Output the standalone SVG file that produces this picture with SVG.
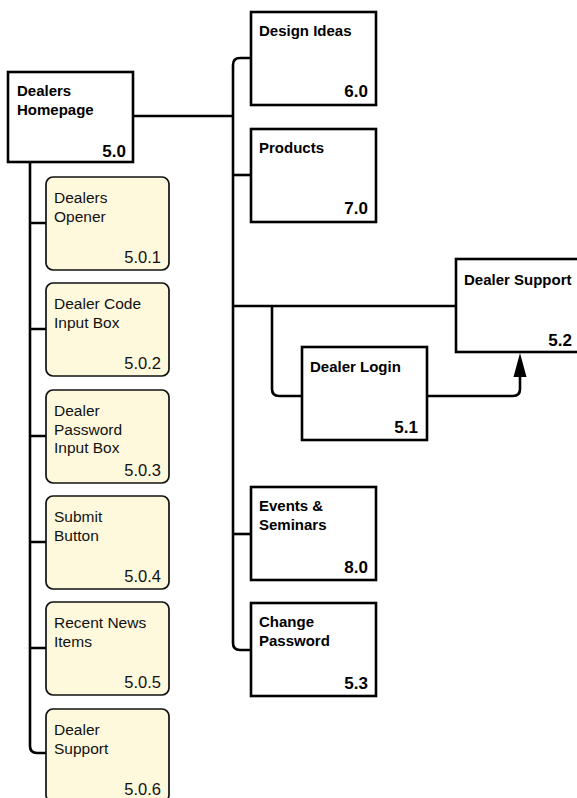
<svg xmlns="http://www.w3.org/2000/svg" width="577" height="798" viewBox="0 0 577 798">
<style>
.b{fill:#fff;stroke:#000;stroke-width:2.6}
.y{fill:#FEF9DC;stroke:#111;stroke-width:1.7}
.tb{font-family:"Liberation Sans",Arial,sans-serif;font-weight:bold;font-size:15px;fill:#000}
.tr{font-family:"Liberation Sans",Arial,sans-serif;font-size:15.5px;fill:#111}
.n{text-anchor:end}
.tb.n{font-size:17px}
.tr.n{font-size:16.5px}
.c{fill:none;stroke:#000;stroke-width:2.6;stroke-linejoin:round}
</style>
<rect width="577" height="798" fill="#fff"/>
<g id="connectors">
<path class="c" d="M133 116H233"/>
<path class="c" d="M251 58H240Q233 58 233 65V643Q233 650 240 650H251"/>
<path class="c" d="M233 175H251"/>
<path class="c" d="M233 306H456"/>
<path class="c" d="M233 534H251"/>
<path class="c" d="M272 306V389Q272 396 279 396H302"/>
<path class="c" d="M427 396H513Q520 396 520 389V374"/>
<path d="M520 353L526.5 377H513.5Z" fill="#000"/>
<path class="c" d="M30 162V746Q30 753 37 753H46"/>
<path class="c" d="M30 223H46M30 329H46M30 436H46M30 542H46M30 648H46"/>
</g>
<g id="n5_0"><rect class="b" x="8" y="72" width="125" height="90"/><text class="tb" x="17" y="96">Dealers</text><text class="tb" x="17" y="114.5">Homepage</text><text class="tb n" x="126" y="157">5.0</text></g>
<g id="n6_0"><rect class="b" x="251" y="12" width="125" height="93"/><text class="tb" x="259" y="36">Design Ideas</text><text class="tb n" x="368" y="97">6.0</text></g>
<g id="n7_0"><rect class="b" x="251" y="129" width="125" height="93"/><text class="tb" x="259" y="153">Products</text><text class="tb n" x="368" y="214">7.0</text></g>
<g id="n5_2"><rect class="b" x="456" y="259" width="128" height="93"/><text class="tb" x="464" y="285">Dealer Support</text><text class="tb n" x="572" y="345.5">5.2</text></g>
<g id="n5_1"><rect class="b" x="302" y="347" width="125" height="93"/><text class="tb" x="310" y="372">Dealer Login</text><text class="tb n" x="418" y="433">5.1</text></g>
<g id="n8_0"><rect class="b" x="251" y="487" width="125" height="93"/><text class="tb" x="259" y="511">Events &amp;</text><text class="tb" x="259" y="529.5">Seminars</text><text class="tb n" x="368" y="573">8.0</text></g>
<g id="n5_3"><rect class="b" x="251" y="603" width="125" height="93"/><text class="tb" x="259" y="627">Change</text><text class="tb" x="259" y="645.5">Password</text><text class="tb n" x="368" y="689">5.3</text></g>
<g id="n5_0_1"><rect class="y" x="46" y="177" width="123" height="93" rx="7"/><text class="tr" x="54" y="203">Dealers</text><text class="tr" x="54" y="221.5">Opener</text><text class="tr n" x="161" y="263">5.0.1</text></g>
<g id="n5_0_2"><rect class="y" x="46" y="283" width="123" height="93" rx="7"/><text class="tr" x="54" y="309">Dealer Code</text><text class="tr" x="54" y="327.5">Input Box</text><text class="tr n" x="161" y="369">5.0.2</text></g>
<g id="n5_0_3"><rect class="y" x="46" y="390" width="123" height="93" rx="7"/><text class="tr" x="54" y="416">Dealer</text><text class="tr" x="54" y="434.5">Password</text><text class="tr" x="54" y="453">Input Box</text><text class="tr n" x="161" y="476">5.0.3</text></g>
<g id="n5_0_4"><rect class="y" x="46" y="496" width="123" height="93" rx="7"/><text class="tr" x="54" y="522">Submit</text><text class="tr" x="54" y="540.5">Button</text><text class="tr n" x="161" y="582">5.0.4</text></g>
<g id="n5_0_5"><rect class="y" x="46" y="602" width="123" height="93" rx="7"/><text class="tr" x="54" y="628">Recent News</text><text class="tr" x="54" y="646.5">Items</text><text class="tr n" x="161" y="688">5.0.5</text></g>
<g id="n5_0_6"><rect class="y" x="46" y="709" width="123" height="93" rx="7"/><text class="tr" x="54" y="735">Dealer</text><text class="tr" x="54" y="753.5">Support</text><text class="tr n" x="161" y="795">5.0.6</text></g>
</svg>
